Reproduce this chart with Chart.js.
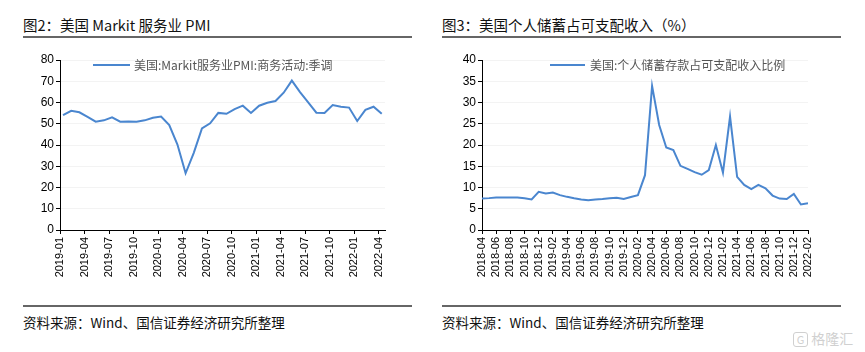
<!DOCTYPE html>
<html>
<head>
<meta charset="utf-8">
<script src="https://cdn.jsdelivr.net/npm/chart.js@4.4.1/dist/chart.umd.min.js"></script>
<style>
  body { margin: 0; background: #fff; }
  #page { position: relative; width: 865px; height: 352px; overflow: hidden; font-family: "Noto Sans CJK SC", sans-serif; }
  .title { position: absolute; top: 14px; font-size: 14.5px; color: #111; white-space: nowrap; }
  .rule { position: absolute; height: 1.5px; background: #666; }
  .source { position: absolute; top: 312px; font-size: 13.5px; color: #111; white-space: nowrap; }
  .legLine { position: absolute; height: 2px; background: #4a86cf; }
  .legText { position: absolute; font-size: 12px; color: #555; white-space: nowrap; }
  canvas { position: absolute; }
</style>
</head>
<body>
<div id="page">
  <div class="title" style="left:23px">图2：美国 Markit 服务业 PMI</div>
  <div class="rule" style="left:23px; width:389px; top:36px"></div>
  <div class="title" style="left:442px">图3：美国个人储蓄占可支配收入（%）</div>
  <div class="rule" style="left:442px; width:399px; top:36px"></div>

  <canvas id="pmiChart" style="left:0; top:40px; width:430px; height:260px" width="430" height="260"></canvas>
  <canvas id="saveChart" style="left:430px; top:40px; width:435px; height:260px" width="435" height="260"></canvas>

  <div class="legLine" style="left:93px; width:37px; top:64px"></div>
  <div class="legText" style="left:134px; top:56px">美国:Markit服务业PMI:商务活动:季调</div>
  <div class="legLine" style="left:550px; width:35px; top:64px"></div>
  <div class="legText" style="left:590px; top:56px">美国:个人储蓄存款占可支配收入比例</div>

  <div class="rule" style="left:23px; width:389px; top:305px"></div>
  <div class="source" style="left:23px">资料来源：Wind、国信证券经济研究所整理</div>
  <div class="rule" style="left:442px; width:399px; top:305px"></div>
  <div class="source" style="left:442px">资料来源：Wind、国信证券经济研究所整理</div>

  <div style="position:absolute; left:793px; top:330px; font-size:14px; line-height:16px; color:#d0d0d0; white-space:nowrap">
    <span style="display:inline-block; border:1.5px solid #d0d0d0; border-radius:3px; width:13px; text-align:center; font-size:11px; line-height:13px">G</span> 格隆汇
  </div>
</div>

<script>
// Chart 1: US Markit services PMI (monthly)
const pmiMonths = [
    '2019-01', '2019-02', '2019-03', '2019-04', '2019-05', '2019-06', '2019-07', '2019-08', '2019-09', '2019-10', '2019-11', '2019-12',
    '2020-01', '2020-02', '2020-03', '2020-04', '2020-05', '2020-06', '2020-07', '2020-08', '2020-09', '2020-10', '2020-11', '2020-12',
    '2021-01', '2021-02', '2021-03', '2021-04', '2021-05', '2021-06', '2021-07', '2021-08', '2021-09', '2021-10', '2021-11', '2021-12',
    '2022-01', '2022-02', '2022-03', '2022-04'
];
const pmiValues = [
    54.1, 56.1, 55.4, 53.2, 51.0, 51.6, 53.0, 51.0, 51.1, 50.9, 51.6, 52.8,
    53.4, 49.4, 40.2, 26.7, 36.3, 47.8, 50.2, 55.1, 54.7, 56.9, 58.5, 55.1,
    58.5, 59.9, 60.7, 64.6, 70.3, 64.9, 60.1, 55.2, 55.1, 58.8, 58.0, 57.6,
    51.3, 56.5, 58.0, 54.7
];
const pmiTickLabels = [
    '2019-01', '2019-04', '2019-07', '2019-10', '2020-01', '2020-04', '2020-07',
    '2020-10', '2021-01', '2021-04', '2021-07', '2021-10', '2022-01', '2022-04'
];

// Chart 2: US personal saving rate (% of disposable income)
const saveMonths = [
    '2018-04', '2018-05', '2018-06', '2018-07', '2018-08', '2018-09', '2018-10', '2018-11', '2018-12',
    '2019-01', '2019-02', '2019-03', '2019-04', '2019-05', '2019-06', '2019-07', '2019-08', '2019-09', '2019-10', '2019-11', '2019-12',
    '2020-01', '2020-02', '2020-03', '2020-04', '2020-05', '2020-06', '2020-07', '2020-08', '2020-09', '2020-10', '2020-11', '2020-12',
    '2021-01', '2021-02', '2021-03', '2021-04', '2021-05', '2021-06', '2021-07', '2021-08', '2021-09', '2021-10', '2021-11', '2021-12',
    '2022-01', '2022-02'
];
const saveValues = [
    7.4, 7.5, 7.65, 7.65, 7.65, 7.65, 7.45, 7.2, 9.0,
    8.6, 8.8, 8.2, 7.8, 7.45, 7.2, 7.0, 7.2, 7.3, 7.45, 7.6, 7.3,
    7.75, 8.2, 12.9, 33.9, 24.7, 19.4, 18.8, 15.1, 14.4, 13.6, 13.0, 14.1,
    20.0, 13.5, 26.7, 12.5, 10.6, 9.6, 10.6, 9.8, 8.1, 7.4, 7.3, 8.5,
    6.0, 6.3
];
const saveTickLabels = [
    '2018-04', '2018-06', '2018-08', '2018-10', '2018-12', '2019-02', '2019-04', '2019-06',
    '2019-08', '2019-10', '2019-12', '2020-02', '2020-04', '2020-06', '2020-08', '2020-10',
    '2020-12', '2021-02', '2021-04', '2021-06', '2021-08', '2021-10', '2021-12', '2022-02'
];

const lineColor = '#4a86cf';
const tickFont = { family: 'Liberation Sans, Arial, sans-serif', size: 12 };

// Build a line chart on a linear month-index axis
function makeChart(canvasId, months, values, tickLabels, opts) {
    const points = values.map((v, i) => ({ x: i, y: v }));
    const tickIdx = tickLabels.map(l => months.indexOf(l));

    return new Chart(document.getElementById(canvasId), {
        type: 'line',
        data: {
            datasets: [{
                data: points,
                borderColor: lineColor,
                borderWidth: 2,
                pointRadius: 0,
                tension: 0
            }]
        },
        options: {
            responsive: false,
            animation: false,
            layout: { padding: { top: 20, bottom: 15, left: 0, right: opts.padRight } },
            plugins: { legend: { display: false }, tooltip: { enabled: false } },
            scales: {
                x: {
                    type: 'linear',
                    min: opts.xMin,
                    max: opts.xMax,
                    afterBuildTicks: s => { s.ticks = tickIdx.map(i => ({ value: i + opts.shift })); },
                    afterFit: s => { s.height = 55; },
                    border: { color: '#000', width: 1 },
                    grid: { drawOnChartArea: false, tickLength: 4, tickColor: '#000' },
                    ticks: {
                        autoSkip: false,
                        minRotation: 90,
                        maxRotation: 90,
                        padding: 3,
                        color: '#000',
                        font: { family: tickFont.family, size: 11 },
                        callback: (v, i) => tickLabels[i]
                    }
                },
                y: {
                    min: 0,
                    max: opts.yMax,
                    afterBuildTicks: s => {
                        s.ticks = [];
                        for (let v = 0; v <= opts.yMax; v += opts.yStep) s.ticks.push({ value: v });
                    },
                    afterFit: s => { s.width = opts.yWidth; },
                    border: { color: '#000', width: 1 },
                    grid: { color: '#f3f3f3', tickLength: 4, tickColor: '#000' },
                    ticks: { padding: 2, color: '#000', font: tickFont }
                }
            }
        }
    });
}

makeChart('pmiChart', pmiMonths, pmiValues, pmiTickLabels, {
    xMin: -0.37, xMax: 39.4, shift: -0.37, padRight: 45, yMax: 80, yStep: 10, yWidth: 60
});

makeChart('saveChart', saveMonths, saveValues, saveTickLabels, {
    xMin: 0, xMax: 46, shift: 0, padRight: 57, yMax: 40, yStep: 5, yWidth: 52
});
</script>
</body>
</html>
